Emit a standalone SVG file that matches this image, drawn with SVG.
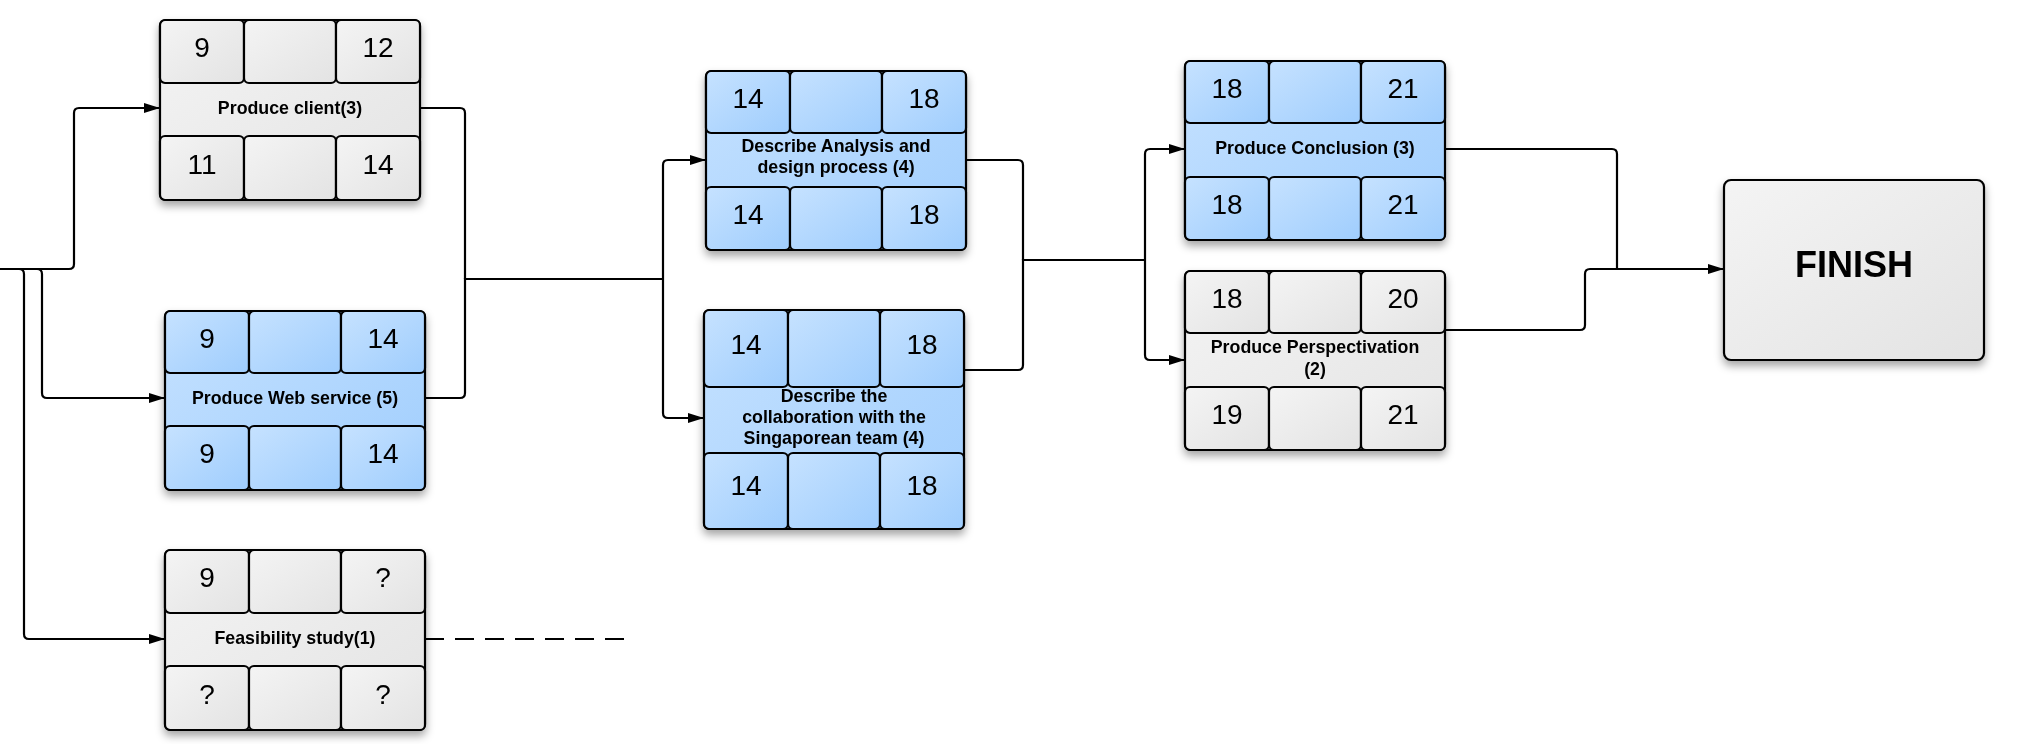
<svg xmlns="http://www.w3.org/2000/svg" width="2028" height="744" viewBox="0 0 2028 744">
<defs>
<linearGradient id="gBlue" x1="0" y1="0" x2="1" y2="1">
<stop offset="0" stop-color="#c6e2ff"/><stop offset="1" stop-color="#9fcdfd"/>
</linearGradient>
<linearGradient id="gGrey" x1="0" y1="0" x2="1" y2="1">
<stop offset="0" stop-color="#f4f4f4"/><stop offset="1" stop-color="#e3e3e3"/>
</linearGradient>
<filter id="sh" x="-10%" y="-10%" width="120%" height="125%">
<feDropShadow dx="0" dy="5" stdDeviation="4" flood-color="#000" flood-opacity="0.35"/>
</filter>
<marker id="arr" markerUnits="userSpaceOnUse" markerWidth="17" markerHeight="12" refX="16" refY="5" orient="auto">
<path d="M0,0 L16,5 L0,10 z" fill="#000"/>
</marker>
</defs>
<style>
.blue rect{fill:url(#gBlue);stroke:#000;stroke-width:2.2}
.grey rect{fill:url(#gGrey);stroke:#000;stroke-width:2.2}
.num{font-family:"Liberation Sans",Arial,sans-serif;font-size:28px;fill:#000;text-anchor:middle}
.lbl{font-family:"Liberation Sans",Arial,sans-serif;font-size:17.8px;font-weight:bold;fill:#000;text-anchor:middle}
.fin{font-family:"Liberation Sans",Arial,sans-serif;font-size:36px;font-weight:bold;fill:#000;text-anchor:middle}
.ln{fill:none;stroke:#000;stroke-width:2.2}
</style>

<g id="connectors">
<path class="ln" d="M0,269 H69 Q74,269 74,264 V113 Q74,108 79,108 H160" marker-end="url(#arr)"/>
<path class="ln" d="M0,269 H37 Q42,269 42,274 V393 Q42,398 47,398 H165" marker-end="url(#arr)"/>
<path class="ln" d="M0,269 H19 Q24,269 24,274 V634 Q24,639 29,639 H165" marker-end="url(#arr)"/>
<path class="ln" d="M420,108 H460 Q465,108 465,113 V279"/>
<path class="ln" d="M425,398 H460 Q465,398 465,393 V279 H663"/>
<path class="ln" d="M663,279 V165 Q663,160 668,160 H706" marker-end="url(#arr)"/>
<path class="ln" d="M663,279 V413 Q663,418 668,418 H704" marker-end="url(#arr)"/>
<path class="ln" d="M966,160 H1018 Q1023,160 1023,165 V260"/>
<path class="ln" d="M964,370 H1018 Q1023,370 1023,365 V260 H1145"/>
<path class="ln" d="M1145,260 V154 Q1145,149 1150,149 H1185" marker-end="url(#arr)"/>
<path class="ln" d="M1145,260 V355 Q1145,360 1150,360 H1185" marker-end="url(#arr)"/>
<path class="ln" d="M1445,149 H1612 Q1617,149 1617,154 V269"/>
<path class="ln" d="M1445,330 H1580 Q1585,330 1585,325 V274 Q1585,269 1590,269 H1724" marker-end="url(#arr)"/>
<path class="ln" d="M425,639 H624" stroke-dasharray="19 11"/>
</g>

<g id="n1" class="grey" transform="translate(160,20)" filter="url(#sh)">
<rect x="0" y="0" width="260" height="180" rx="6"/>
<rect x="0" y="0" width="84" height="63" rx="5"/><rect x="84" y="0" width="92" height="63" rx="5"/><rect x="176" y="0" width="84" height="63" rx="5"/>
<rect x="0" y="116" width="84" height="64" rx="5"/><rect x="84" y="116" width="92" height="64" rx="5"/><rect x="176" y="116" width="84" height="64" rx="5"/>
<text class="num" x="42" y="37">9</text><text class="num" x="218" y="37">12</text>
<text class="lbl" x="130" y="94">Produce client(3)</text>
<text class="num" x="42" y="154">11</text><text class="num" x="218" y="154">14</text>
</g>

<g id="n2" class="blue" transform="translate(165,311)" filter="url(#sh)">
<rect x="0" y="0" width="260" height="179" rx="6"/>
<rect x="0" y="0" width="84" height="62" rx="5"/><rect x="84" y="0" width="92" height="62" rx="5"/><rect x="176" y="0" width="84" height="62" rx="5"/>
<rect x="0" y="115" width="84" height="64" rx="5"/><rect x="84" y="115" width="92" height="64" rx="5"/><rect x="176" y="115" width="84" height="64" rx="5"/>
<text class="num" x="42" y="37">9</text><text class="num" x="218" y="37">14</text>
<text class="lbl" x="130" y="93">Produce Web service (5)</text>
<text class="num" x="42" y="152">9</text><text class="num" x="218" y="152">14</text>
</g>

<g id="n3" class="grey" transform="translate(165,550)" filter="url(#sh)">
<rect x="0" y="0" width="260" height="180" rx="6"/>
<rect x="0" y="0" width="84" height="63" rx="5"/><rect x="84" y="0" width="92" height="63" rx="5"/><rect x="176" y="0" width="84" height="63" rx="5"/>
<rect x="0" y="116" width="84" height="64" rx="5"/><rect x="84" y="116" width="92" height="64" rx="5"/><rect x="176" y="116" width="84" height="64" rx="5"/>
<text class="num" x="42" y="37">9</text><text class="num" x="218" y="37">?</text>
<text class="lbl" x="130" y="94">Feasibility study(1)</text>
<text class="num" x="42" y="154">?</text><text class="num" x="218" y="154">?</text>
</g>

<g id="n4" class="blue" transform="translate(706,71)" filter="url(#sh)">
<rect x="0" y="0" width="260" height="179" rx="6"/>
<rect x="0" y="0" width="84" height="62" rx="5"/><rect x="84" y="0" width="92" height="62" rx="5"/><rect x="176" y="0" width="84" height="62" rx="5"/>
<rect x="0" y="116" width="84" height="63" rx="5"/><rect x="84" y="116" width="92" height="63" rx="5"/><rect x="176" y="116" width="84" height="63" rx="5"/>
<text class="num" x="42" y="37">14</text><text class="num" x="218" y="37">18</text>
<text class="lbl" x="130" y="81">Describe Analysis and</text>
<text class="lbl" x="130" y="102">design process (4)</text>
<text class="num" x="42" y="153">14</text><text class="num" x="218" y="153">18</text>
</g>

<g id="n5" class="blue" transform="translate(704,310)" filter="url(#sh)">
<rect x="0" y="0" width="260" height="219" rx="6"/>
<rect x="0" y="0" width="84" height="77" rx="5"/><rect x="84" y="0" width="92" height="77" rx="5"/><rect x="176" y="0" width="84" height="77" rx="5"/>
<rect x="0" y="143" width="84" height="76" rx="5"/><rect x="84" y="143" width="92" height="76" rx="5"/><rect x="176" y="143" width="84" height="76" rx="5"/>
<text class="num" x="42" y="44">14</text><text class="num" x="218" y="44">18</text>
<text class="lbl" x="130" y="92">Describe the</text>
<text class="lbl" x="130" y="113">collaboration with the</text>
<text class="lbl" x="130" y="134">Singaporean team (4)</text>
<text class="num" x="42" y="185">14</text><text class="num" x="218" y="185">18</text>
</g>

<g id="n6" class="blue" transform="translate(1185,61)" filter="url(#sh)">
<rect x="0" y="0" width="260" height="179" rx="6"/>
<rect x="0" y="0" width="84" height="62" rx="5"/><rect x="84" y="0" width="92" height="62" rx="5"/><rect x="176" y="0" width="84" height="62" rx="5"/>
<rect x="0" y="116" width="84" height="63" rx="5"/><rect x="84" y="116" width="92" height="63" rx="5"/><rect x="176" y="116" width="84" height="63" rx="5"/>
<text class="num" x="42" y="37">18</text><text class="num" x="218" y="37">21</text>
<text class="lbl" x="130" y="93">Produce Conclusion (3)</text>
<text class="num" x="42" y="153">18</text><text class="num" x="218" y="153">21</text>
</g>

<g id="n7" class="grey" transform="translate(1185,271)" filter="url(#sh)">
<rect x="0" y="0" width="260" height="179" rx="6"/>
<rect x="0" y="0" width="84" height="62" rx="5"/><rect x="84" y="0" width="92" height="62" rx="5"/><rect x="176" y="0" width="84" height="62" rx="5"/>
<rect x="0" y="116" width="84" height="63" rx="5"/><rect x="84" y="116" width="92" height="63" rx="5"/><rect x="176" y="116" width="84" height="63" rx="5"/>
<text class="num" x="42" y="37">18</text><text class="num" x="218" y="37">20</text>
<text class="lbl" x="130" y="82">Produce Perspectivation</text>
<text class="lbl" x="130" y="104">(2)</text>
<text class="num" x="42" y="153">19</text><text class="num" x="218" y="153">21</text>
</g>

<g id="finish" class="grey" filter="url(#sh)">
<rect x="1724" y="180" width="260" height="180" rx="7"/>
<text class="fin" x="1854" y="277">FINISH</text>
</g>
</svg>
